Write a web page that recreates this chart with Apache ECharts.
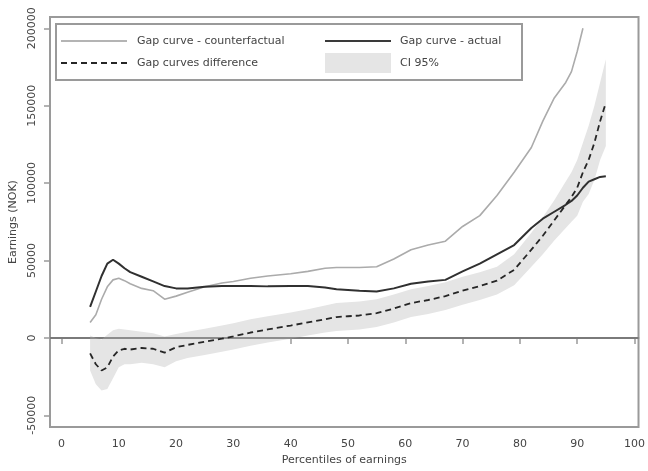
<!DOCTYPE html>
<html>
<head>
<meta charset="utf-8">
<script src="https://cdn.jsdelivr.net/npm/echarts@6/dist/echarts.min.js"></script>
<style>
html,body{margin:0;padding:0;background:#fff;}
#chart{width:648px;height:471px;}
</style>
</head>
<body>
<div id="chart"></div>
<script>
// Percentiles of earnings (x values)
const pct = [5,6,7,8,9,10,11,12,14,16,18,20,22,25,28,30,33,36,40,43,46,48,50,52,55,58,61,64,67,70,73,76,79,82,84,86,88,89,90,91,92,93,94,95];
// Gap curve - actual
const actual = [20000,30000,40000,48000,50500,48000,45000,42500,39500,36500,33500,32000,32000,33000,33500,33500,33500,33300,33500,33500,32500,31500,31000,30500,30000,32000,35000,36500,37500,43000,48000,54000,60000,71000,77000,81500,86000,88500,92000,97000,101000,102500,104000,104500];
// Gap curve - counterfactual (drawn up to the 91st percentile)
const cfPct = [5,6,7,8,9,10,11,12,14,16,18,20,22,25,28,30,33,36,40,43,46,48,50,52,55,58,61,64,67,70,73,76,79,82,84,86,88,89,90,91];
const counterfactual = [10000,15000,25000,33000,37500,38500,37000,35000,32000,30500,25000,27000,29500,33000,35500,36500,38500,40000,41500,43000,45000,45500,45500,45500,46000,51000,57000,60000,62500,72000,79000,92000,107000,123000,140000,155000,165000,172000,185000,200000];
// Gap curves difference
const difference = [-10000,-17000,-21000,-19000,-12000,-8000,-7000,-7500,-6500,-7000,-9500,-6000,-4500,-2500,-500,1000,3500,5500,8000,10000,12000,13500,14000,14500,16000,19000,22500,24500,27000,30500,33500,37000,44000,57000,66000,76000,86000,91000,97000,107000,115000,126000,140000,152000];
// CI 95% band of the difference
const ciLower = [-21000,-30000,-34000,-33000,-26000,-19000,-17000,-17000,-16000,-17000,-19000,-15000,-13000,-11000,-9000,-7500,-5000,-3000,-500,1500,3500,4500,5000,5500,7000,10000,13500,15500,18000,21500,24500,28000,34000,46000,54000,63000,71000,75000,79000,88000,93000,102000,115000,124000];
const ciUpper = [1500,0,-1000,2000,5000,6000,5500,5000,4000,3000,1000,2500,4000,6000,8000,9500,12000,14000,16500,18500,21000,22500,23000,23500,25000,28000,31500,33500,36000,39500,42500,46000,54000,68000,78000,89000,101000,107000,115000,126000,137000,150000,165000,180000];
// Tick labels
const xTicks = [0,10,20,30,40,50,60,70,80,90,100];
const yTicks = [-50000,0,50000,100000,150000,200000];

const legendItems = ['Gap curve - counterfactual','Gap curve - actual','Gap curves difference','CI 95%'];

const FONT = 'DejaVu Sans';
const TXT = '#444';
const FRAME = '#9a9a9a';

const pair = (xs, ys) => xs.map((x, i) => [x, ys[i]]);

function renderBand(params, api) {
  const pts = [];
  for (let i = 0; i < pct.length; i++) pts.push(api.coord([pct[i], ciUpper[i]]));
  for (let i = pct.length - 1; i >= 0; i--) pts.push(api.coord([pct[i], ciLower[i]]));
  return {
    type: 'polygon',
    shape: {points: pts},
    style: {fill: '#e5e5e5', stroke: null},
    silent: true
  };
}

const chart = echarts.init(document.getElementById('chart'), null, {renderer: 'canvas'});
chart.setOption({
  animation: false,
  backgroundColor: '#fff',
  grid: {left: 50, right: 1, top: 17, bottom: 39, show: true, borderColor: FRAME, borderWidth: 2, backgroundColor: 'transparent'},
  xAxis: {
    type: 'value', min: -2, max: 100.7,
    name: 'Percentiles of earnings', nameLocation: 'middle', nameGap: 27,
    nameTextStyle: {fontFamily: FONT, fontSize: 11, color: TXT},
    axisLine: {show: true, lineStyle: {color: FRAME, width: 2}},
    axisTick: {show: true, inside: false, length: 6, customValues: xTicks, lineStyle: {color: FRAME, width: 1.5}},
    axisLabel: {customValues: xTicks, fontFamily: FONT, fontSize: 11, color: TXT, margin: 12, formatter: v => String(v)},
    splitLine: {show: false}
  },
  yAxis: {
    type: 'value', min: -57600, max: 207300,
    name: 'Earnings (NOK)', nameLocation: 'middle', nameGap: 30, nameRotate: 90,
    nameTextStyle: {fontFamily: FONT, fontSize: 11, color: TXT},
    axisLine: {show: true, onZero: false, lineStyle: {color: FRAME, width: 2}},
    axisTick: {show: true, inside: false, length: 6, customValues: yTicks, lineStyle: {color: FRAME, width: 1.5}},
    axisLabel: {customValues: yTicks, rotate: 90, fontFamily: FONT, fontSize: 11, color: TXT, margin: 12, formatter: v => String(v)},
    splitLine: {show: false}
  },
  series: [
    {
      name: 'zero', type: 'line', data: [], z: 1, silent: true,
      markLine: {silent: true, symbol: 'none', label: {show: false},
        lineStyle: {color: '#6f6f6f', width: 1.5, type: 'solid'}, data: [{yAxis: 0}]}
    },
    {
      name: legendItems[3], type: 'custom', renderItem: renderBand, data: [[pct[0], ciLower[0]]],
      clip: true, z: 2, silent: true
    },
    {
      name: legendItems[0], type: 'line', data: pair(cfPct, counterfactual), symbol: 'none',
      lineStyle: {color: '#ababab', width: 1.6}, z: 3
    },
    {
      name: legendItems[1], type: 'line', data: pair(pct, actual), symbol: 'none',
      lineStyle: {color: '#303030', width: 2}, z: 4
    },
    {
      name: legendItems[2], type: 'line', data: pair(pct, difference), symbol: 'none',
      lineStyle: {color: '#262626', width: 1.8, type: [6, 4]}, z: 5
    }
  ],
  graphic: [
    {type: 'rect', shape: {x: 56, y: 24, width: 466, height: 56}, style: {fill: '#fff', stroke: FRAME, lineWidth: 2}, z: 10},
    {type: 'line', shape: {x1: 61, y1: 41, x2: 127, y2: 41}, style: {stroke: '#b4b4b4', lineWidth: 2}, z: 11},
    {type: 'text', x: 137, y: 41, style: {text: legendItems[0], fontFamily: FONT, fontSize: 11, fill: TXT, verticalAlign: 'middle'}, z: 11},
    {type: 'line', shape: {x1: 325, y1: 41, x2: 391, y2: 41}, style: {stroke: '#3a3a3a', lineWidth: 2}, z: 11},
    {type: 'text', x: 400, y: 41, style: {text: legendItems[1], fontFamily: FONT, fontSize: 11, fill: TXT, verticalAlign: 'middle'}, z: 11},
    {type: 'line', shape: {x1: 61, y1: 63, x2: 127, y2: 63}, style: {stroke: '#262626', lineWidth: 1.8, lineDash: [6, 4]}, z: 11},
    {type: 'text', x: 137, y: 63, style: {text: legendItems[2], fontFamily: FONT, fontSize: 11, fill: TXT, verticalAlign: 'middle'}, z: 11},
    {type: 'rect', shape: {x: 325, y: 53, width: 66, height: 20}, style: {fill: '#e5e5e5'}, z: 11},
    {type: 'text', x: 400, y: 63, style: {text: legendItems[3], fontFamily: FONT, fontSize: 11, fill: TXT, verticalAlign: 'middle'}, z: 11}
  ]
});
</script>
</body>
</html>
